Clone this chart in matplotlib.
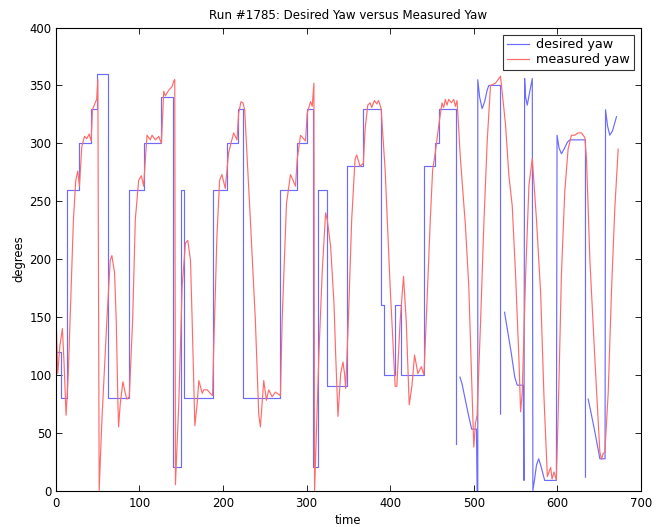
import numpy as np
import matplotlib
matplotlib.use("Agg")
import matplotlib.pyplot as plt

plt.rcParams['font.family'] = ['DejaVu Sans']

# ---- data ----
# desired yaw: step part (time of change, new value)
desired_step_t = [0, 6.8, 14, 27.6, 42, 48.8, 62.8, 87.6, 106, 126, 140.8, 150, 154,
                  187.6, 204.8, 217.6, 224, 268.8, 288, 300, 307.2, 313.6, 324, 348,
                  368, 389.2, 393.2, 406, 412.8, 440.4, 454, 458, 478.8]
desired_step_v = [120, 80, 260, 300, 330, 360, 80, 260, 300, 340, 20, 260, 80,
                  260, 300, 330, 80, 260, 300, 330, 20, 260, 90, 280,
                  330, 160, 100, 160, 100, 280, 300, 330, 40]

# desired yaw: later continuous part (NaN = break in the record)
desired_curve_t = [483.5, 486, 490, 494, 497.5, 503.2, 504, 504.8, 504.8, 507, 510, 513, 516, 518, 532, 532,
                   np.nan,
                   536.8, 540, 545, 549, 552, 559.2, 560, 560.8, 562, 564, 567, 570, 570.7,
                   572.8, 575, 577.6, 580, 584.8, 598.8, 599.6, 602, 604.8, 608, 612, 614.8, 633.6, 633.6,
                   np.nan,
                   636.8, 640, 645, 650.8, 657, 657.6, 660, 662.7, 666, 670.7]
desired_curve_v = [98, 92, 78, 64, 53, 53, 0, 0, 355, 340, 330, 336, 346, 350, 350, 66,
                   np.nan,
                   154, 140, 118, 98, 91, 91, 8.7, 356, 340, 333, 345, 356, 0,
                   10, 22, 27.4, 22, 8.7, 8.7, 307, 296, 291, 295, 301, 303, 303, 11.5,
                   np.nan,
                   79, 68, 50, 27.4, 27.4, 329, 315, 307, 311, 323]

measured_t = [0, 2.4, 5, 8, 10, 12.4, 15, 17.2, 21.2, 24, 26.4, 28.4, 31.2, 34.4, 37.2, 40, 42.4,
              44, 47.2, 49, 50.4, 52, 55.2, 61.2, 65.2, 67.2, 70.4, 72.4, 74.4, 75.2, 77.2, 80.4,
              83.2, 85.2, 88, 92, 95.2, 99.2, 102.4, 105.2, 107.2, 109.2, 113.2, 115.2, 119.2,
              123.2, 126.4, 129.2, 131.2, 135.2, 139.2, 141.2, 142.4, 143.2, 147.2, 151.2, 155.2,
              158, 161.2, 163.2, 166.4, 169.2, 171.2, 175.2, 177.2, 181.2, 184.8, 187.6, 188.8,
              192.8, 196, 198.8, 202.8, 206.8, 212.8, 216.8, 218.8, 221.6, 224, 226, 232.8, 238.8,
              242.8, 244.8, 248.8, 252, 254.8, 258.8, 262.8, 268.8, 270.8, 276, 280.8, 286.8,
              288.8, 292.8, 298.8, 300.8, 304.8, 306.8, 308.8, 309.6, 314.8, 318.8, 322.8, 324.8,
              328.8, 332.8, 334.8, 337.6, 340.8, 343.6, 345.6, 346.8, 350, 354, 358, 360, 364,
              368, 370, 373.2, 376, 378, 381.2, 384, 386, 388, 389.2, 394, 400, 406, 408, 412,
              416, 419.2, 422.8, 426, 429.2, 433.2, 437.2, 440.4, 444, 448, 450.8, 454, 458, 462,
              464, 466, 468, 470, 473.2, 476, 478, 480, 484, 490, 494, 498, 500, 502, 504, 508,
              512, 516, 520, 526, 532, 538, 542, 546, 550, 554, 556, 558, 562, 566, 570, 575,
              580, 584, 588, 592, 593.6, 596, 598.8, 601.6, 604.8, 608.8, 612.8, 616.8, 620.8,
              624.8, 628.8, 632.8, 634.8, 638.8, 644.8, 650.8, 652.8, 654.8, 656.8, 660.8, 664.7,
              668.7, 672.7]
measured_v = [162, 101, 125, 140, 110, 65, 100, 147, 234, 268, 276, 263, 297, 306, 304, 308, 302,
              329, 335, 338, 355, 0, 60, 147, 199, 203, 188, 147, 75, 55, 75, 94,
              84, 79, 81, 147, 234, 268, 272, 263, 286, 307, 303, 307, 303,
              306, 300, 345, 341, 346, 349, 354, 355, 5, 75, 176, 214,
              216, 199, 147, 56, 75, 95, 84, 87, 87, 84, 82, 118,
              219, 268, 273, 261, 292, 309, 303, 326, 336, 335, 329, 234, 147,
              66, 55, 95, 78, 87, 81, 85, 82, 147, 248, 273, 263,
              286, 307, 302, 326, 336, 332, 352, 0, 118, 190, 240, 234,
              211, 162, 118, 64, 101, 111, 100, 88, 147, 234, 286, 290, 280,
              283, 312, 333, 335, 331, 337, 334, 337, 333, 330, 277, 176, 90, 90, 147,
              185, 147, 74, 90, 117, 101, 107, 100, 162, 234, 277, 292, 315, 335,
              331, 338, 333, 338, 335, 338, 332, 337, 287, 229, 177, 85, 37.5, 58, 65, 143,
              229, 301, 350, 352, 358, 316, 272, 246, 186, 114, 68, 85, 186, 264, 287, 234,
              170, 80, 12, 20, 10, 16, 9, 85, 186, 258, 295, 307, 307,
              309, 309, 305, 287, 200, 114, 33, 27, 32, 33, 85, 172,
              244, 295]

x_ticks = [0, 100, 200, 300, 400, 500, 600, 700]
y_ticks = [0, 50, 100, 150, 200, 250, 300, 350, 400]

blue = (0.42, 0.42, 1.0)
red = (1.0, 0.42, 0.42)
fs = 8.4

fig = plt.figure(figsize=(6.64, 5.27), dpi=100)
ax = fig.add_axes([55.7 / 664, 1 - 490.5 / 527, (641 - 55.7) / 664, (490.5 - 27.6) / 527])

ax.plot(desired_step_t, desired_step_v, drawstyle='steps-post', color=blue, lw=0.85, label='desired yaw')
ax.plot(desired_curve_t, desired_curve_v, color=blue, lw=0.85)
ax.plot(measured_t, measured_v, color=red, lw=0.85, label='measured yaw')

ax.set_xlim(0, 700)
ax.set_ylim(0, 400)
ax.set_xticks(x_ticks)
ax.set_yticks(y_ticks)
ax.tick_params(direction='in', top=True, right=True, length=4, width=0.6, labelsize=fs)
ax.tick_params(axis='x', pad=5)
ax.tick_params(axis='y', pad=3)
for s in ax.spines.values():
    s.set_linewidth(0.8)

ax.set_title('Run #1785: Desired Yaw versus Measured Yaw', fontsize=8.6, pad=6)
ax.set_xlabel('time', fontsize=fs, labelpad=2.5)
ax.set_ylabel('degrees', fontsize=fs, labelpad=3)

leg = ax.legend(loc='upper right', fontsize=9.2, frameon=True, fancybox=False, shadow=False,
                borderaxespad=0.55, handlelength=1.7, borderpad=0.3, labelspacing=0.15,
                handletextpad=0.6)
leg.get_frame().set_edgecolor('black')
leg.get_frame().set_linewidth(0.8)

fig.savefig('out.png', dpi=100)
